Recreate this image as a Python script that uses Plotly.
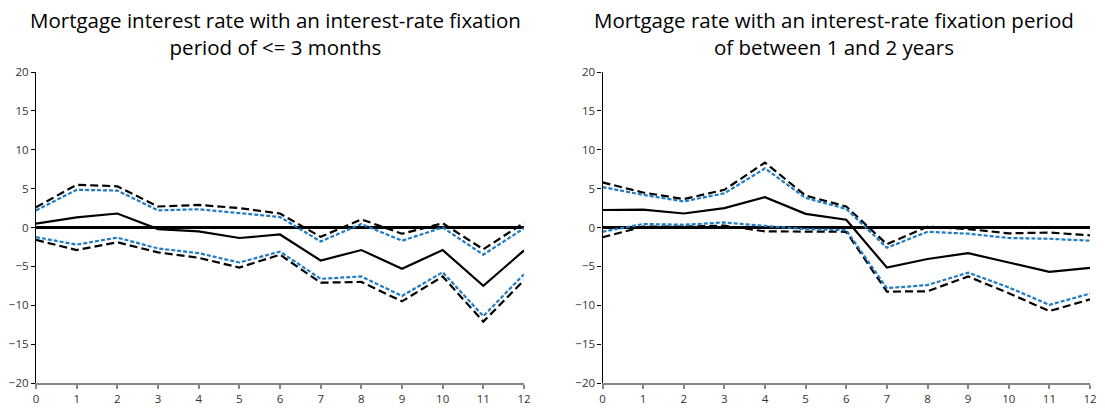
import plotly.graph_objects as go

months = list(range(13))

# Left panel: fixation <= 3 months
left_mid = [0.5, 1.3, 1.8, -0.2, -0.5, -1.35, -0.9, -4.25, -2.9, -5.3, -2.9, -7.5, -2.95]
left_upper_black = [2.6, 5.5, 5.3, 2.7, 2.9, 2.5, 1.8, -1.2, 1.05, -0.8, 0.55, -2.8, 0.6]
left_upper_blue = [2.2, 4.85, 4.75, 2.2, 2.35, 1.85, 1.35, -1.8, 0.45, -1.7, 0.0, -3.5, -0.1]
left_lower_blue = [-1.25, -2.2, -1.3, -2.7, -3.3, -4.5, -3.1, -6.6, -6.3, -8.8, -5.75, -11.4, -6.0]
left_lower_black = [-1.6, -2.9, -1.9, -3.2, -3.9, -5.15, -3.5, -7.1, -7.0, -9.5, -6.3, -12.1, -6.8]

# Right panel: fixation between 1 and 2 years
right_mid = [2.25, 2.3, 1.8, 2.5, 3.9, 1.75, 1.0, -5.15, -4.05, -3.3, -4.5, -5.7, -5.2]
right_upper_black = [5.8, 4.5, 3.65, 4.85, 8.35, 4.1, 2.7, -2.15, 0.1, -0.2, -0.75, -0.65, -1.0]
right_upper_blue = [5.2, 4.2, 3.35, 4.4, 7.6, 3.8, 2.4, -2.6, -0.55, -0.8, -1.35, -1.45, -1.7]
right_lower_blue = [-0.55, 0.45, 0.35, 0.65, 0.2, -0.2, -0.35, -7.8, -7.4, -5.8, -7.7, -9.95, -8.5]
right_lower_black = [-1.25, 0.1, 0.1, 0.25, -0.5, -0.55, -0.55, -8.25, -8.2, -6.3, -8.45, -10.75, -9.25]

titles = ["Mortgage interest rate with an interest-rate fixation<br>period of <= 3 months",
          "Mortgage rate with an interest-rate fixation period<br>of between 1 and 2 years"]

W, H = 1105, 411
BLUE = "#1f7bc2"
FONT = "Open Sans"

fig = go.Figure()

panels = [
    ("x", "y", left_mid, left_upper_black, left_upper_blue, left_lower_blue, left_lower_black),
    ("x2", "y2", right_mid, right_upper_black, right_upper_blue, right_lower_blue, right_lower_black),
]
for xa, ya, mid, ub, ubl, lbl, lb in panels:
    for vals, color, dash in [(ub, "black", "8px,4px"), (lb, "black", "8px,4px"),
                              (ubl, BLUE, "4px,2px"), (lbl, BLUE, "4px,2px"),
                              (mid, "black", "solid")]:
        fig.add_trace(go.Scatter(x=months, y=vals, mode="lines", xaxis=xa, yaxis=ya,
                                 line=dict(color=color, width=2.2, dash=dash),
                                 showlegend=False, hoverinfo="skip", cliponaxis=False))

ytop = 1 - 72 / H
ybot = 1 - 383 / H
xdoms = [(36 / W, 524 / W), (602.5 / W, 1090 / W)]

common_x = dict(range=[0, 12], dtick=1, tick0=0, showgrid=False, zeroline=False,
                automargin=False,
                showline=True, linecolor="#868686", linewidth=1.5,
                ticks="outside", ticklen=4, tickcolor="#868686", tickwidth=1.5,
                tickfont=dict(family=FONT, size=11.5, color="#333333"))
common_y = dict(range=[-20, 20], dtick=5, tick0=-20, showgrid=False,
                automargin=False,
                zeroline=True, zerolinecolor="black", zerolinewidth=2.5,
                showline=True, linecolor="black", linewidth=1.3,
                ticks="outside", ticklen=4, tickcolor="black", tickwidth=1.3,
                tickfont=dict(family=FONT, size=11.5, color="#333333"))

fig.update_layout(
    width=W, height=H,
    margin=dict(l=0, r=0, t=0, b=0, pad=0),
    paper_bgcolor="white", plot_bgcolor="white",
    xaxis=dict(domain=list(xdoms[0]), anchor="y", **common_x),
    yaxis=dict(domain=[ybot, ytop], anchor="x", **common_y),
    xaxis2=dict(domain=list(xdoms[1]), anchor="y2", **common_x),
    yaxis2=dict(domain=[ybot, ytop], anchor="x2", **common_y),
)

for cx, t in zip([275 / W, 834 / W], titles):
    fig.add_annotation(text=t, x=cx, y=1 - 4 / H, xref="paper", yref="paper",
                       xanchor="center", yanchor="top", showarrow=False, align="center",
                       font=dict(family=FONT, size=20.5, color="black"))

fig.write_html("out.html", config={"displayModeBar": False},
               post_script="document.body.style.margin='0';document.body.style.overflow='hidden';")
